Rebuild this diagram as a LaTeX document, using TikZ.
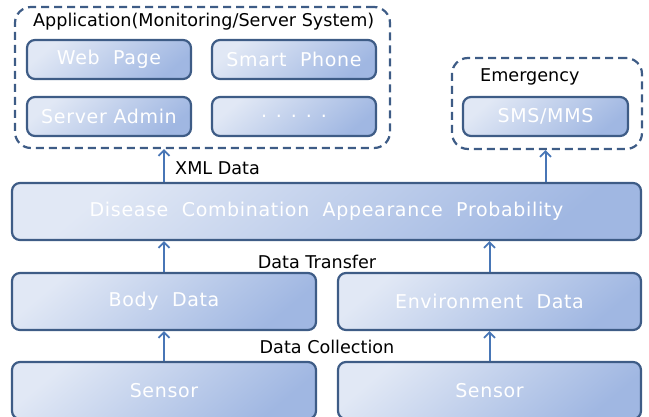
\documentclass[tikz,border=0pt]{standalone}
\usepackage{fontspec}
\setmainfont{DejaVu Sans}
\newfontfamily\boxfont[LetterSpace=3.5]{DejaVu Sans}
\usetikzlibrary{arrows.meta}
\definecolor{bord}{RGB}{62,92,134}
\definecolor{flight}{RGB}{225,232,245}
\definecolor{fdark}{RGB}{160,183,226}
\definecolor{arrc}{RGB}{72,118,182}
\tikzset{
  box/.style={draw=bord, line width=2.2pt, rounded corners=8pt,
    top color=flight, bottom color=fdark, shading angle=40,
    text=white, font=\boxfont\fontsize{19}{22}\selectfont, inner sep=0pt},
  grp/.style={draw=bord, line width=2.2pt, dash pattern=on 8pt off 5pt,
    rounded corners=16pt, inner sep=0pt},
  arr/.style={draw=arrc, line width=2pt, -{Straight Barb[length=5.5pt,width=11pt,line width=1.8pt]}},
  lbl/.style={text=black, font=\fontsize{17.6}{20}\selectfont, inner sep=0pt}
}
\begin{document}
\begin{tikzpicture}[x=1pt,y=-1pt]
\useasboundingbox (0,0) rectangle (649,416);
\clip (0,0) rectangle (649,416);
% groups
\node[grp, minimum width=375pt, minimum height=141pt] (app) at (202.5,77.5) {};
\node[grp, minimum width=190pt, minimum height=91pt] (emer) at (547,103.5) {};
\node[lbl, anchor=west] (apptitle) at (33,22) {Application(Monitoring/Server System)};
\node[lbl, anchor=west] (emtitle) at (480,77) {Emergency};
% app boxes
\node[box, minimum width=164pt, minimum height=39pt] (web) at (109,59.5) {Web\ \ Page};
\node[box, minimum width=164pt, minimum height=39pt] (phone) at (294,59.5) {Smart\ \ Phone};
\node[box, minimum width=164pt, minimum height=39pt] (admin) at (109,116.5) {Server\ Admin};
\node[box, minimum width=164pt, minimum height=39pt] (dots) at (294,116.5) {. . . . .};
\node[box, minimum width=165pt, minimum height=39pt] (sms) at (545.5,116.5) {SMS/MMS};
% main boxes
\node[box, minimum width=629pt, minimum height=57pt] (dcap) at (326.5,211.5) {Disease\ \ Combination\ \ Appearance\ \ Probability};
\node[box, minimum width=304pt, minimum height=57pt] (body) at (164,301.5) {Body\ \ Data};
\node[box, minimum width=303pt, minimum height=57pt] (env) at (489.5,301.5) {Environment\ \ Data};
\node[box, minimum width=304pt, minimum height=57pt] (s1) at (164,390.5) {Sensor};
\node[box, minimum width=303pt, minimum height=57pt] (s2) at (489.5,390.5) {Sensor};
% arrows
\draw[arr] (body.north |- dcap.north) -- (body.north |- app.south);
\draw[arr] (sms.south |- dcap.north) -- (sms.south |- emer.south);
\draw[arr] (body.north) -- (body.north |- dcap.south);
\draw[arr] (env.north) -- (env.north |- dcap.south);
\draw[arr] (s1.north) -- (s1.north |- body.south);
\draw[arr] (s2.north) -- (s2.north |- env.south);
% labels
\node[lbl, anchor=west] (xml) at (175,168) {XML Data};
\node[lbl] (transfer) at (317,262) {Data Transfer};
\node[lbl] (collect) at (327,347) {Data Collection};
\end{tikzpicture}
\end{document}
